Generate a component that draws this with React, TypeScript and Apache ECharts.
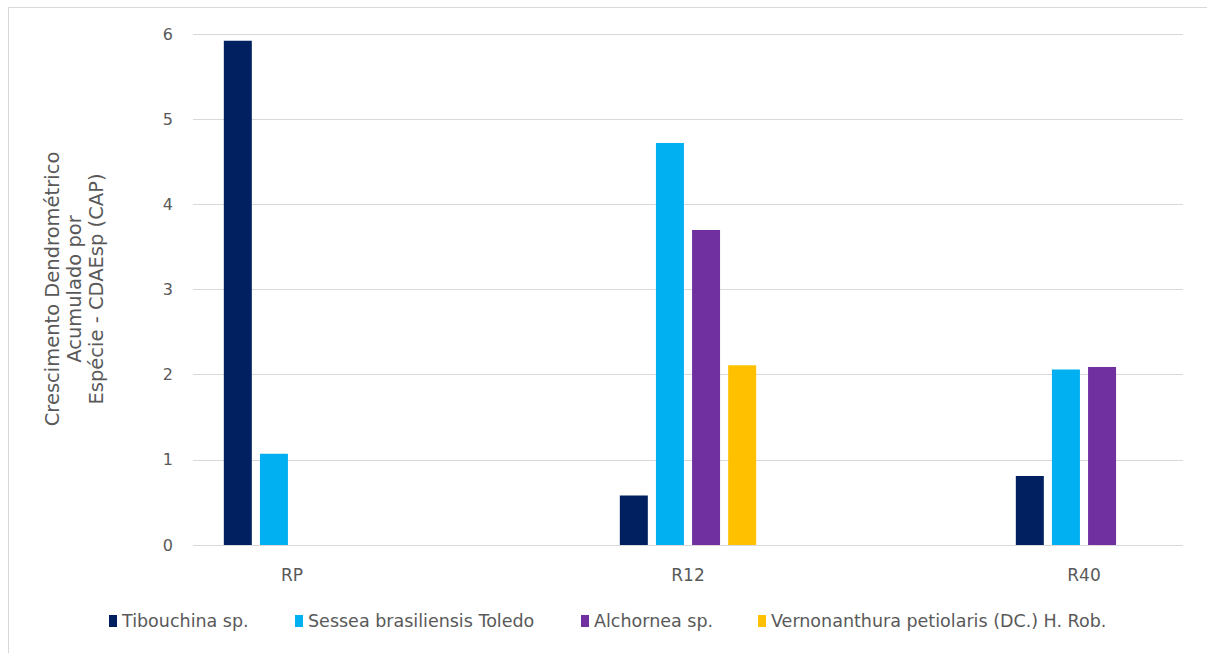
import React, { useEffect, useRef } from "react";
import * as echarts from "echarts";

// Sites (categories) along the x axis
const sites = ["RP", "R12", "R40"];

// Species names, in legend order
const species = [
  "Tibouchina sp.",
  "Sessea brasiliensis Toledo",
  "Alchornea sp.",
  "Vernonanthura petiolaris (DC.) H. Rob.",
];

// CDAEsp (CAP) per site, one list per species; null = species absent
const tibouchina = [5.92, 0.58, 0.81];
const sessea = [1.07, 4.72, 2.06];
const alchornea = [null, 3.7, 2.09];
const vernonanthura = [null, 2.11, null];

const yTicks = [0, 1, 2, 3, 4, 5, 6];

const colors = ["#002060", "#00B0F0", "#7030A0", "#FFC000"];

const FONT = "'DejaVu Sans', 'Open Sans', sans-serif";
const GREY = "#595959";

export default function App() {
  const ref = useRef<HTMLDivElement>(null);

  useEffect(() => {
    if (!ref.current) return;
    const chart = echarts.init(ref.current, null, { renderer: "svg" });

    const seriesValues = [tibouchina, sessea, alchornea, vernonanthura];
    const legendLeft = [104, 290, 576, 753];

    const option: any = {
      animation: false,
      backgroundColor: "#ffffff",
      textStyle: { fontFamily: FONT },
      grid: { left: 193, right: 24, top: 34, bottom: 108, containLabel: false },
      legend: species.map((name, i) => ({
        data: [name],
        left: legendLeft[i],
        top: 607,
        itemWidth: 8,
        itemHeight: 12,
        itemGap: 0,
        icon: "rect",
        textStyle: { color: GREY, fontSize: 17.5, fontFamily: FONT },
        selectedMode: false,
      })),
      xAxis: {
        type: "value",
        min: -0.25,
        max: 2.25,
        axisLine: { show: false },
        axisTick: { show: false },
        splitLine: { show: false },
        axisLabel: {
          customValues: [0, 1, 2],
          formatter: (v: number) => sites[Math.round(v)] ?? "",
          color: GREY,
          fontSize: 17,
          margin: 21,
          fontFamily: FONT,
        },
      },
      yAxis: {
        type: "value",
        min: 0,
        max: 6,
        interval: 1,
        axisLine: { show: false },
        axisTick: { show: false },
        splitLine: { lineStyle: { color: "#d9d9d9", width: 1 } },
        axisLabel: {
          color: GREY,
          fontSize: 16,
          margin: 20,
          fontFamily: FONT,
          formatter: (v: number) => (yTicks.includes(v) ? String(v) : ""),
        },
      },
      series: species.map((name, i) => ({
        name,
        type: "bar",
        barWidth: 28,
        barGap: "29%",
        itemStyle: { color: colors[i] },
        data: seriesValues[i].map((v, j) => [j, v]),
      })),
      graphic: [
        {
          type: "rect",
          left: 6,
          top: 5,
          shape: { width: 1200, height: 646 },
          style: { fill: "none", stroke: "#d9d9d9", lineWidth: 1 },
          silent: true,
          z: -1,
        },
        {
          type: "text",
          x: 74,
          y: 289,
          rotation: Math.PI / 2,
          style: {
            text: "Crescimento Dendrométrico\nAcumulado por\nEspécie - CDAEsp (CAP)",
            fill: GREY,
            font: `19.5px ${FONT}`,
            align: "center",
            verticalAlign: "middle",
            lineHeight: 22,
          },
        },
      ],
    };

    chart.setOption(option);
    return () => chart.dispose();
  }, []);

  return (
    <div
      ref={ref}
      style={{ position: "fixed", left: 0, top: 0, width: 1207, height: 653 }}
    />
  );
}
